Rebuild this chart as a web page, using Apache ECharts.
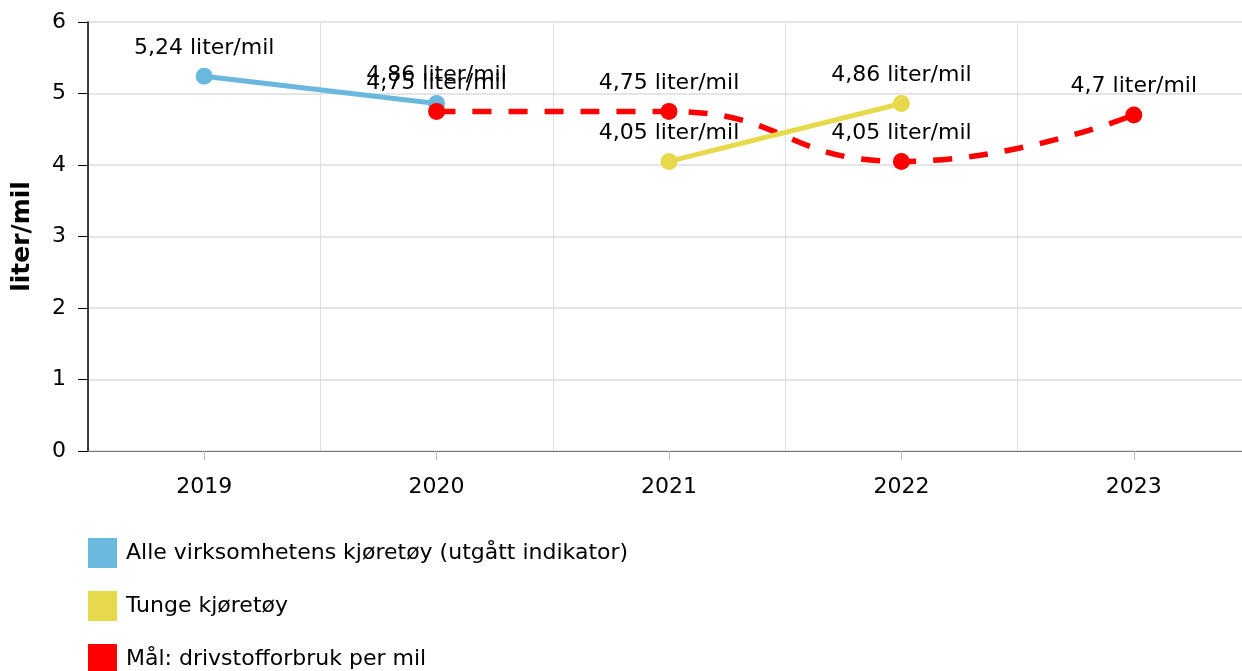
<!DOCTYPE html>
<html>
<head>
<meta charset="utf-8">
<script src="https://cdn.jsdelivr.net/npm/echarts@6/dist/echarts.min.js"></script>
<style>html,body{margin:0;padding:0;background:#fff;overflow:hidden;}#c{width:1250px;height:671px;}</style>
</head>
<body>
<div id="c"></div>
<script>
const categories = ['2019', '2020', '2021', '2022', '2023'];
const seriesNames = ['Alle virksomhetens kjøretøy (utgått indikator)', 'Tunge kjøretøy', 'Mål: drivstofforbruk per mil'];
const alleValues = [5.24, 4.86, null, null, null];
const tungeValues = [null, null, 4.05, 4.86, null];
const maalValues = [null, 4.75, 4.75, 4.05, 4.7];
const yTicks = [0, 1, 2, 3, 4, 5, 6];
const unit = 'liter/mil';

const FONT = 'DejaVu Sans';
const FS = 22;
const chart = echarts.init(document.getElementById('c'));
const fmt = p => String(p.value).replace('.', ',') + ' ' + unit;
const labelCfg = { show: true, position: 'top', distance: 9, formatter: fmt, color: '#000', fontSize: FS, fontFamily: FONT };

function mk(name, data, color, extra) {
  return Object.assign({
    name, type: 'line', data,
    symbol: 'circle', symbolSize: 17,
    itemStyle: { color },
    lineStyle: { color, width: 5 },
    label: labelCfg,
    connectNulls: false,
    animation: false
  }, extra || {});
}

chart.setOption({
  animation: false,
  textStyle: { fontFamily: FONT },
  grid: { left: 88, top: 22, bottom: 220, right: 0, containLabel: false },
  legend: {
    orient: 'vertical', left: 88, top: 538, padding: 0, height: 300,
    itemWidth: 29, itemHeight: 30, itemGap: 23, icon: 'rect',
    textStyle: { fontSize: FS, color: '#000', fontFamily: FONT, padding: [0, 0, 0, 4] },
    data: seriesNames.map(n => ({ name: n, icon: 'rect' }))
  },
  xAxis: {
    type: 'category', data: categories, boundaryGap: true,
    axisLine: { lineStyle: { color: '#777', width: 1 } },
    axisTick: { show: true, alignWithLabel: true, length: 9, lineStyle: { color: '#bbb' } },
    axisLabel: { margin: 25, fontSize: FS, color: '#000', fontFamily: FONT },
    splitLine: { show: true, lineStyle: { color: '#ddd', width: 1 } }
  },
  yAxis: {
    type: 'value', min: yTicks[0], max: yTicks[yTicks.length - 1], interval: 1,
    name: unit, nameLocation: 'middle', nameGap: 53,
    nameTextStyle: { fontSize: 25, fontWeight: 'bold', color: '#000', fontFamily: FONT },
    axisLine: { show: true, lineStyle: { color: '#000', width: 1.5 } },
    axisTick: { show: true, length: 10, lineStyle: { color: '#000' } },
    axisLabel: { margin: 22, fontSize: FS, color: '#000', fontFamily: FONT },
    splitLine: { show: true, lineStyle: { color: '#ddd', width: 1.5 } }
  },
  series: [
    mk(seriesNames[0], alleValues, '#6bb8de'),
    mk(seriesNames[2], maalValues, '#ff0000', { smooth: true, lineStyle: { color: '#ff0000', width: 5.5, type: [19, 17] } }),
    mk(seriesNames[1], tungeValues, '#e6d94b')
  ]
});
</script>
</body>
</html>
